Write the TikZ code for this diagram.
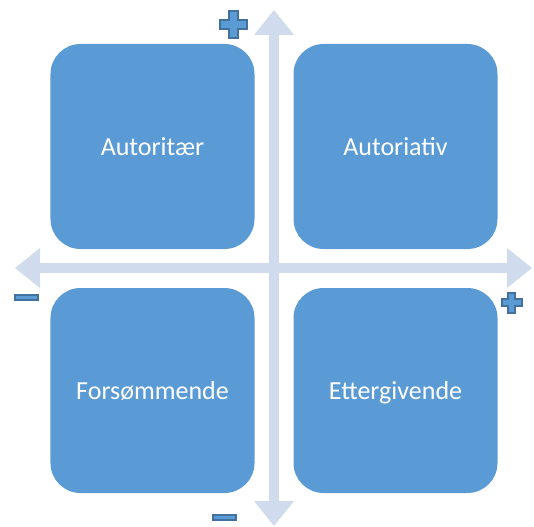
\documentclass[tikz,border=0pt]{standalone}
\usepackage{fontspec}
\setmainfont{Carlito}
\usetikzlibrary{matrix,arrows.meta}
\definecolor{boxblue}{RGB}{91,155,213}
\definecolor{axisblue}{RGB}{208,220,238}
\definecolor{signline}{RGB}{65,113,156}
\tikzset{
  axis/.style={draw=axisblue, line width=10pt,
    arrows={Triangle[width=40pt,length=25pt,line width=0pt]-Triangle[width=40pt,length=25pt,line width=0pt]}},
  sign/.style={draw=signline, fill=boxblue, line width=2pt, line join=miter}
}
\begin{document}
\begin{tikzpicture}[x=1pt,y=-1pt]
    \useasboundingbox (0,0) rectangle (534,526);
    \coordinate (xl) at (15,268);
    \coordinate (xr) at (532,268);
    \coordinate (yt) at (274,10);
    \coordinate (yb) at (274,526);
    \draw[axis] (xl) -- (xr);
    \draw[axis] (yt) -- (yb);
    \matrix (m) at (274,268.5) [
      matrix of nodes,
      nodes={
        fill=boxblue,
        rounded corners=30pt,
        minimum width=204pt,
        minimum height=205pt,
        outer sep=0pt,
        anchor=center,
        text=white,
        text height=20pt,
        text depth=2pt,
        font=\fontsize{26}{30}\selectfont
      },
      column sep=39pt,
      row sep=39pt
    ]{
      Autoritær & Autoriativ \\
      Forsømmende & Ettergivende \\
    };
    % plus and minus
    \draw[sign,shift={(233,25)}] (-4.5,-13.5) -- (4.5,-13.5) -- (4.5,-4.5) -- (13.5,-4.5)
      -- (13.5,4.5) -- (4.5,4.5) -- (4.5,13.5) -- (-4.5,13.5) -- (-4.5,4.5)
      -- (-13.5,4.5) -- (-13.5,-4.5) -- (-4.5,-4.5) -- cycle;
    \draw[sign,shift={(511.5,302.5)}] (-3.5,-10) -- (3.5,-10) -- (3.5,-3.5) -- (10,-3.5)
      -- (10,3.5) -- (3.5,3.5) -- (3.5,10) -- (-3.5,10) -- (-3.5,3.5)
      -- (-10,3.5) -- (-10,-3.5) -- (-3.5,-3.5) -- cycle;
    \draw[sign] (14.5,295) rectangle (37.5,300);
    \draw[sign] (212.5,514.5) rectangle (235.5,519.5);
  \end{tikzpicture}
\end{document}
